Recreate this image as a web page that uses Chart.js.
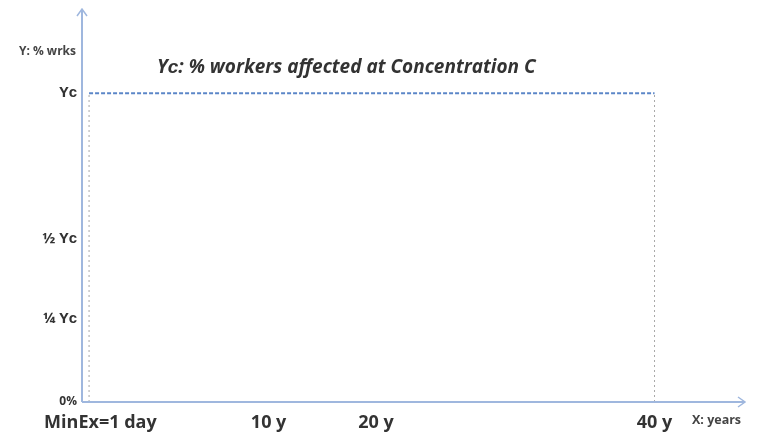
<!DOCTYPE html>
<html>
<head>
<meta charset="utf-8">
<script src="https://cdn.jsdelivr.net/npm/chart.js@4.4.1/dist/chart.umd.min.js"></script>
<style>
  body { margin: 0; background: #fff; }
  #wrap { width: 758px; height: 434px; }
</style>
</head>
<body>
<div id="wrap"><canvas id="doseChart" width="758" height="434"></canvas></div>
<script>
// x in years (not to scale in the original sketch), y as fraction of Yc
const xTickValues = [0.8, 12.7, 20.3, 40];
const xTickLabels = ['MinEx=1 day', '10 y', '20 y', '40 y'];
const yTickValues = [0, 0.27, 0.53, 1];
const yTickLabels = ['0%', '¼ Yᴄ', '½ Yᴄ', 'Yᴄ'];

const ycLineX = [0, 40];
const ycLineY = [1, 1];
const startDropX = [0, 0];
const endDropX = [40, 40];
const dropY = [0, 1];

const axisColor = '#9fb7de';

let pts = (xs, ys) => xs.map((x, i) => ({ x: x, y: ys[i] }));

// axes with arrows + free text labels
const sketchPlugin = {
  id: 'sketch',
  afterDraw(chart) {
    let c = chart.ctx, a = chart.chartArea;
    let top = a.top - 5;
    c.save();
    c.strokeStyle = axisColor;
    c.lineWidth = 2;
    c.beginPath();
    c.moveTo(a.left, a.bottom);
    c.lineTo(a.left, top);
    c.moveTo(a.left, a.bottom);
    c.lineTo(a.right, a.bottom);
    c.stroke();
    c.lineWidth = 1.5;
    c.beginPath();
    c.moveTo(a.left - 5, top + 7);
    c.lineTo(a.left, top);
    c.lineTo(a.left + 5, top + 7);
    c.moveTo(a.right - 7, a.bottom - 5);
    c.lineTo(a.right, a.bottom);
    c.lineTo(a.right - 7, a.bottom + 5);
    c.stroke();

    c.fillStyle = '#444';
    c.font = 'bold 12px "Open Sans", sans-serif';
    c.textAlign = 'right';
    c.textBaseline = 'middle';
    c.fillText('Y: % wrks', a.left - 6, 52);
    c.textAlign = 'left';
    c.font = 'bold 12.5px "Open Sans", sans-serif';
    c.fillText('X: years', 692, 420);

    c.font = 'italic bold 19px "Open Sans", sans-serif';
    c.fillStyle = '#333';
    c.fillText('Yᴄ: % workers affected at Concentration C', 157, 68);
    c.restore();
  }
};

let ctx = document.getElementById('doseChart').getContext('2d');
let doseChart = new Chart(ctx, {
  type: 'scatter',
  data: {
    datasets: [{
      label: 'Yc',
      data: pts(ycLineX, ycLineY),
      showLine: true,
      borderColor: '#5b86c8',
      borderWidth: 2,
      borderDash: [4, 2],
      pointRadius: 0
    }, {
      label: 'start',
      data: pts(startDropX, dropY),
      showLine: true,
      borderColor: '#a8a8a8',
      borderWidth: 1,
      borderDash: [2, 3],
      pointRadius: 0
    }, {
      label: 'end',
      data: pts(endDropX, dropY),
      showLine: true,
      borderColor: '#a8a8a8',
      borderWidth: 1,
      borderDash: [2, 3],
      pointRadius: 0
    }]
  },
  options: {
    responsive: false,
    animation: false,
    layout: { padding: { top: 0, right: 13, left: 0, bottom: 0 } },
    plugins: { legend: { display: false }, tooltip: { enabled: false } },
    scales: {
      x: {
        type: 'linear',
        min: -0.5,
        max: 46.4,
        grid: { display: false },
        border: { display: false },
        afterFit(s) { s.height = 32; },
        afterBuildTicks(s) { s.ticks = xTickValues.map(v => ({ value: v })); },
        ticks: {
          autoSkip: false,
          maxRotation: 0,
          padding: 2,
          color: '#333',
          font: { family: '"Open Sans", sans-serif', size: 18, weight: 'bold' },
          callback: (v, i) => xTickLabels[i]
        }
      },
      y: {
        min: 0,
        max: 1.2565,
        grid: { display: false, drawTicks: false },
        border: { display: false },
        afterFit(s) { s.width = 82; },
        afterBuildTicks(s) { s.ticks = yTickValues.map(v => ({ value: v })); },
        ticks: {
          autoSkip: false,
          padding: 5,
          color: '#333',
          font: c => ({ family: '"Open Sans", sans-serif', size: c.index === 0 ? 12 : 15, weight: 'bold' }),
          callback: (v, i) => yTickLabels[i]
        }
      }
    }
  },
  plugins: [sketchPlugin]
});
</script>
</body>
</html>
